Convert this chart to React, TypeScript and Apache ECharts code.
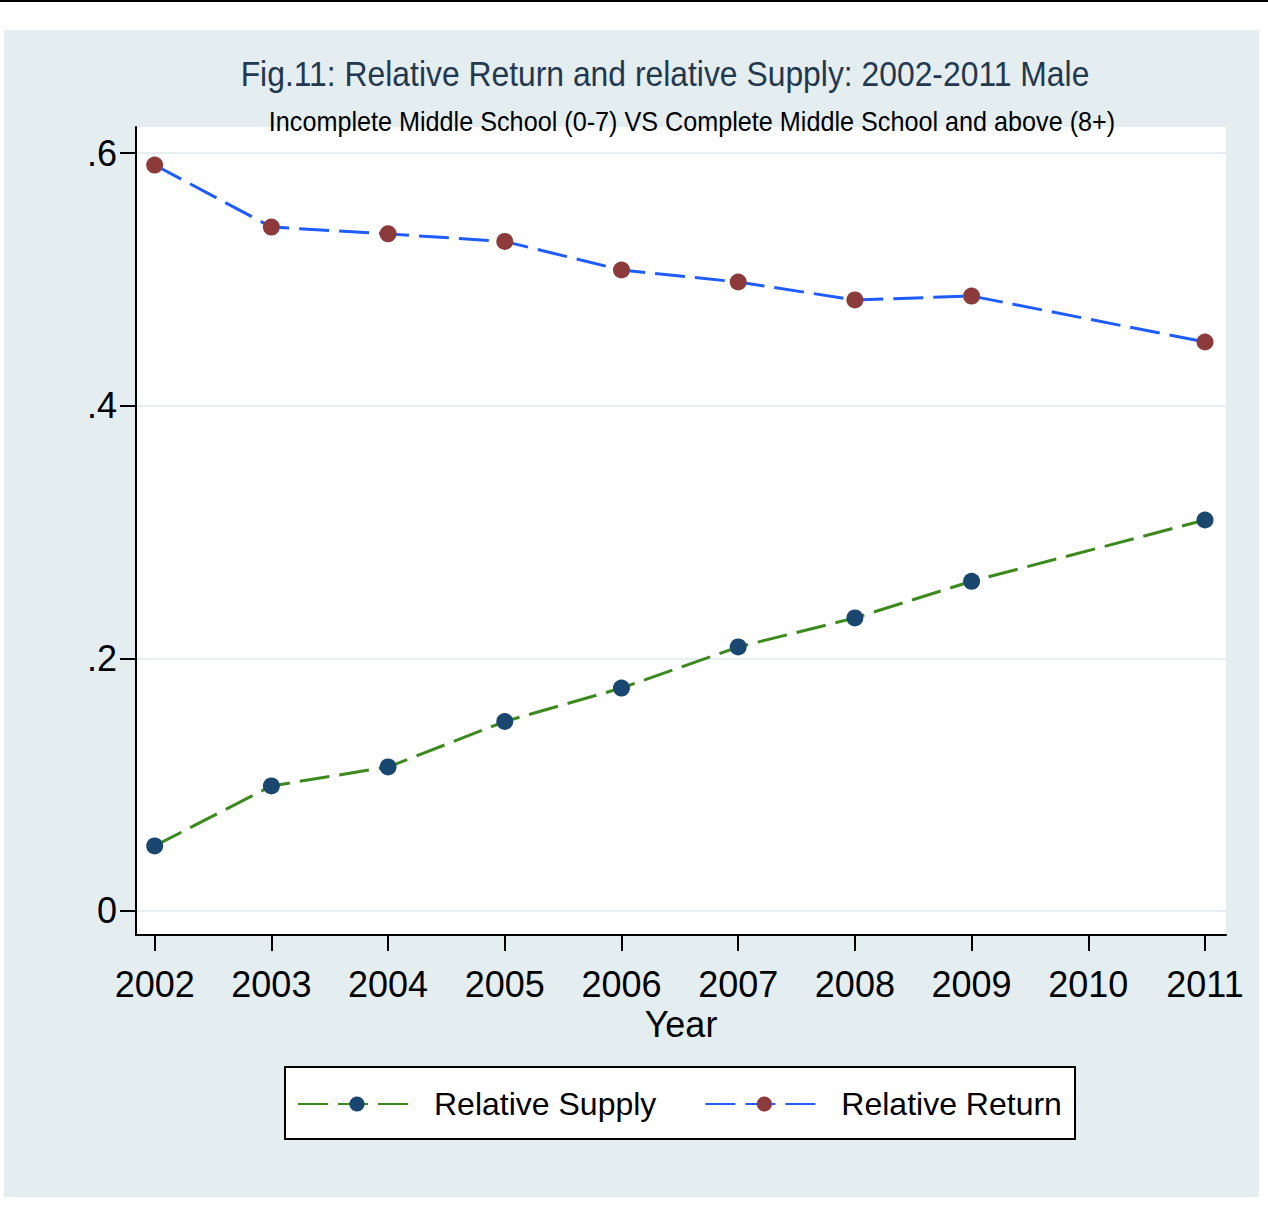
import React, { useEffect, useRef } from "react";
import * as echarts from "echarts";

const years = [2002, 2003, 2004, 2005, 2006, 2007, 2008, 2009, 2010, 2011];
const relativeSupply = [0.0515, 0.099, 0.114, 0.15, 0.1765, 0.209, 0.232, 0.261, null, 0.3095];
const relativeReturn = [0.5905, 0.5414, 0.536, 0.53, 0.5074, 0.4979, 0.4837, 0.4868, null, 0.4504];
const yTicks = [0, 0.2, 0.4, 0.6];
const seriesNames = ["Relative Supply", "Relative Return"];
const titleText = "Fig.11: Relative Return and relative Supply: 2002-2011 Male";
const subtitleText = "Incomplete Middle School (0-7) VS Complete Middle School and above (8+)";

const FONT = "'Liberation Sans', Arial, sans-serif";

function pairs(vals: (number | null)[]) {
  const out: [number, number][] = [];
  years.forEach((y, i) => {
    const v = vals[i];
    if (v !== null && v !== undefined) out.push([y, v]);
  });
  return out;
}

export default function App() {
  const ref = useRef<HTMLDivElement>(null);
  useEffect(() => {
    document.body.style.margin = "0";
    const chart = echarts.init(ref.current!, null, { renderer: "svg" });
    chart.setOption({
      animation: false,
      backgroundColor: "#ffffff",
      textStyle: { fontFamily: FONT },
      graphic: [
        { type: "rect", z: -100, shape: { x: 0, y: 0, width: 1268, height: 2 }, style: { fill: "#000" } },
        { type: "rect", z: -100, shape: { x: 4, y: 30, width: 1255, height: 1167 }, style: { fill: "#e4eef0" } },
        {
          type: "rect",
          z: 1,
          shape: { x: 285, y: 1067, width: 790, height: 72 },
          style: { fill: "#ffffff", stroke: "#000", lineWidth: 2 },
        },
        {
          type: "text",
          z: 5,
          x: 665,
          y: 73,
          scaleX: 0.885,
          style: {
            text: titleText,
            fill: "#23384f",
            font: `36px ${FONT}`,
            align: "center",
            verticalAlign: "middle",
          },
        },
        {
          type: "text",
          z: 5,
          x: 692,
          y: 122,
          scaleX: 0.9,
          style: {
            text: subtitleText,
            fill: "#000",
            font: `28px ${FONT}`,
            align: "center",
            verticalAlign: "middle",
          },
        },
      ],
      grid: {
        left: 136,
        top: 127,
        width: 1090,
        height: 808,
        show: true,
        backgroundColor: "#ffffff",
        borderWidth: 0,
      },
      legend: {
        left: 297,
        top: 1088,
        padding: 0,
        itemWidth: 118,
        itemHeight: 19,
        itemGap: 48,
        z: 10,
        textStyle: { fontSize: 32, color: "#000", fontFamily: FONT, padding: [0, 0, 0, 13] },
        data: seriesNames,
      },
      xAxis: {
        type: "value",
        min: 2001.84,
        max: 2011.18,
        name: "Year",
        nameLocation: "middle",
        nameGap: 68,
        nameTextStyle: { fontSize: 36, color: "#000", fontFamily: FONT },
        axisLine: { show: true, onZero: false, lineStyle: { color: "#000", width: 2 } },
        axisTick: { show: true, length: 16, customValues: years, lineStyle: { color: "#000", width: 2 } },
        axisLabel: {
          customValues: years,
          fontSize: 36,
          color: "#000",
          fontFamily: FONT,
          margin: 31,
          formatter: (v: number) => String(Math.round(v)),
        },
        splitLine: { show: false },
      },
      yAxis: {
        type: "value",
        min: -0.019,
        max: 0.6206,
        axisLine: { show: true, onZero: false, lineStyle: { color: "#000", width: 2 } },
        axisTick: { show: true, length: 16, customValues: yTicks, lineStyle: { color: "#000", width: 2 } },
        axisLabel: {
          customValues: yTicks,
          fontSize: 36,
          color: "#000",
          fontFamily: FONT,
          margin: 19,
          formatter: (v: number) => (Math.abs(v) < 1e-9 ? "0" : "." + String(Math.round(v * 10))),
        },
        splitLine: { show: true, lineStyle: { color: "#e6eff1", width: 2 } },
      },
      series: [
        {
          name: seriesNames[0],
          type: "line",
          data: pairs(relativeSupply),
          symbol: "circle",
          symbolSize: 17,
          itemStyle: { color: "#1a476f" },
          lineStyle: { color: "#3c8a1e", width: 3, type: [30, 10] },
          z: 3,
        },
        {
          name: seriesNames[1],
          type: "line",
          data: pairs(relativeReturn),
          symbol: "circle",
          symbolSize: 17,
          itemStyle: { color: "#8c3a3a" },
          lineStyle: { color: "#1f5cff", width: 3, type: [30, 10] },
          z: 3,
        },
      ],
    });
    return () => chart.dispose();
  }, []);
  return <div ref={ref} style={{ width: 1268, height: 1218 }} />;
}
